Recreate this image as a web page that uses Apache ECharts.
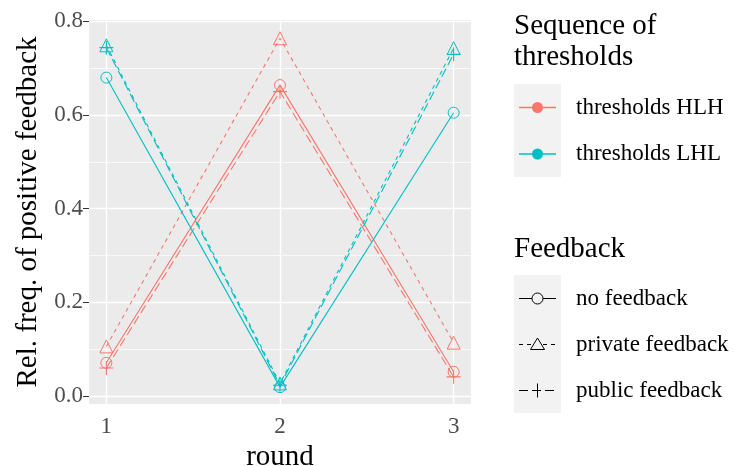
<!DOCTYPE html>
<html>
<head>
<meta charset="utf-8">
<script src="https://cdn.jsdelivr.net/npm/echarts@6/dist/echarts.min.js"></script>
<style>
html,body{margin:0;padding:0;background:#fff;}
#main{width:734px;height:466px;}
</style>
</head>
<body>
<div id="main"></div>
<script>
// ---- data ----
var rounds = [1, 2, 3];
var hlhNo      = [0.071, 0.664, 0.052];
var hlhPrivate = [0.106, 0.764, 0.114];
var hlhPublic  = [0.060, 0.650, 0.041];
var lhlNo      = [0.680, 0.019, 0.605];
var lhlPrivate = [0.749, 0.027, 0.743];
var lhlPublic  = [0.744, 0.023, 0.730];
var xTicks = [1, 2, 3];
var yTicks = [0, 0.2, 0.4, 0.6, 0.8];
var yMinor = [0.1, 0.3, 0.5, 0.7];
var seqLabels = ['thresholds HLH', 'thresholds LHL'];
var fbLabels = ['no feedback', 'private feedback', 'public feedback'];

var RED = '#F8766D', CYAN = '#00BFC4';
var FONT = '"Liberation Serif", "DejaVu Serif", serif';
var plusPath = 'path://M6,0L7,0L7,6L13,6L13,7L7,7L7,13L6,13L6,7L0,7L0,6L6,6Z';

function pairs(ys) { return rounds.map(function (r, i) { return [r, ys[i]]; }); }

var styles = {
  no: { type: 'solid', symbol: 'circle', size: 11, filled: false },
  priv: { type: [4, 4], symbol: 'triangle', size: 13, filled: false },
  pub: { type: [9, 4], symbol: plusPath, size: 14, filled: true }
};

function mkSeries(name, ys, color, st) {
  return {
    name: name, type: 'line', data: pairs(ys), z: 3,
    symbol: st.symbol, symbolSize: st.size, showAllSymbol: true,
    lineStyle: { color: color, width: 1.1, type: st.type },
    itemStyle: st.filled ? { color: color, borderWidth: 0 }
                         : { color: 'rgba(0,0,0,0)', borderColor: color, borderWidth: 1 },
    emphasis: { disabled: true }, silent: true
  };
}

var gridSeries = {
  type: 'line', data: [], z: 1, silent: true,
  markLine: {
    z: 1, silent: true, symbol: 'none', animation: false,
    label: { show: false },
    data: []
      .concat(yMinor.map(function (v) { return { yAxis: v, lineStyle: { color: '#fff', width: 0.7, type: 'solid' } }; }))
      .concat(yTicks.map(function (v) { return { yAxis: v, lineStyle: { color: '#fff', width: 1.4, type: 'solid' } }; }))
      .concat(xTicks.map(function (v) { return { xAxis: v, lineStyle: { color: '#fff', width: 1.4, type: 'solid' } }; }))
  }
};

// ---- legend graphics ----
var g = [];
function txt(s, x, y, size) {
  g.push({ type: 'text', x: x, y: y, style: { text: s, font: size + 'px ' + FONT, fill: '#000', verticalAlign: 'middle', align: 'left' } });
}
txt('Sequence of', 514, 26, 29);
txt('thresholds', 514, 57.5, 29);
g.push({ type: 'rect', shape: { x: 514, y: 84, width: 47, height: 93 }, style: { fill: '#F2F2F2' } });
[RED, CYAN].forEach(function (c, i) {
  var cy = 107.5 + i * 46.5;
  g.push({ type: 'line', shape: { x1: 519, y1: cy, x2: 556, y2: cy }, style: { stroke: c, lineWidth: 1.5 } });
  g.push({ type: 'circle', shape: { cx: 537.5, cy: cy, r: 5.5 }, style: { fill: c } });
  txt(seqLabels[i], 576, cy, 23);
});
txt('Feedback', 514, 249, 29);
g.push({ type: 'rect', shape: { x: 514, y: 275, width: 47, height: 138 }, style: { fill: '#F2F2F2' } });
var dashes = [null, [4, 4], [9, 4]];
fbLabels.forEach(function (lab, i) {
  var cy = 298.5 + i * 46;
  g.push({ type: 'line', shape: { x1: 519, y1: cy, x2: 556, y2: cy }, style: { stroke: '#000', lineWidth: 1.2, lineDash: dashes[i] } });
  if (i === 0) {
    g.push({ type: 'circle', shape: { cx: 537.5, cy: cy, r: 5.5 }, style: { fill: '#F2F2F2', stroke: '#000', lineWidth: 1 } });
  } else if (i === 1) {
    g.push({ type: 'polygon', shape: { points: [[537.5, cy - 6.5], [544.5, cy + 5], [530.5, cy + 5]] }, style: { fill: '#F2F2F2', stroke: '#000', lineWidth: 1 } });
  } else {
    g.push({ type: 'line', shape: { x1: 537.5, y1: cy - 7, x2: 537.5, y2: cy + 7 }, style: { stroke: '#000', lineWidth: 1 } });
  }
  txt(lab, 576, cy, 23);
});

var chart = echarts.init(document.getElementById('main'), null, { renderer: 'canvas' });
chart.setOption({
  animation: false,
  backgroundColor: '#fff',
  grid: { left: 89, right: 263, top: 20, bottom: 62, show: true, backgroundColor: '#EBEBEB', borderWidth: 0,
          containLabel: false, outerBoundsMode: 'none' },
  xAxis: {
    type: 'value', min: 0.9, max: 3.1,
    name: 'round', nameLocation: 'middle', nameGap: 38,
    nameTextStyle: { fontFamily: FONT, fontSize: 29, color: '#000' },
    axisLine: { show: false },
    axisTick: { show: true, length: 6, lineStyle: { color: '#333' }, customValues: xTicks },
    axisLabel: { color: '#4D4D4D', fontFamily: FONT, fontSize: 23, margin: 11, customValues: xTicks },
    splitLine: { show: false }
  },
  yAxis: {
    type: 'value', min: -0.017, max: 0.803,
    name: 'Rel. freq. of positive feedback', nameLocation: 'middle', nameGap: 45, nameRotate: 90,
    nameTextStyle: { fontFamily: FONT, fontSize: 29, color: '#000' },
    axisLine: { show: false },
    axisTick: { show: true, length: 6, lineStyle: { color: '#333' }, customValues: yTicks },
    axisLabel: { color: '#4D4D4D', fontFamily: FONT, fontSize: 23, margin: 6, customValues: yTicks,
      formatter: function (v) { return v.toFixed(1); } },
    splitLine: { show: false }
  },
  series: [
    gridSeries,
    mkSeries('HLH no', hlhNo, RED, styles.no),
    mkSeries('HLH private', hlhPrivate, RED, styles.priv),
    mkSeries('HLH public', hlhPublic, RED, styles.pub),
    mkSeries('LHL no', lhlNo, CYAN, styles.no),
    mkSeries('LHL private', lhlPrivate, CYAN, styles.priv),
    mkSeries('LHL public', lhlPublic, CYAN, styles.pub)
  ],
  graphic: g
});
</script>
</body>
</html>
